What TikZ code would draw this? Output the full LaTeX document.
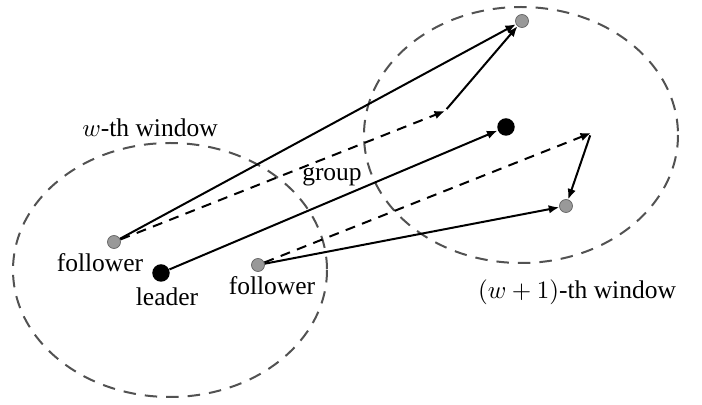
\documentclass[tikz,border=0pt]{standalone}
\usepackage{fontspec}
\setmainfont{Liberation Serif}
\usetikzlibrary{arrows.meta}
\begin{document}
\begin{tikzpicture}[x=0.4pt,y=-0.4pt,
  window/.style={draw=black!68, line width=0.8pt, dash pattern=on 5pt off 3.6pt},
  fol/.style={circle, draw=black!60, fill=black!40, line width=0.3pt, inner sep=0pt, minimum size=5.2pt},
  lead/.style={circle, fill=black, inner sep=0pt, minimum size=7pt},
  mv/.style={line width=0.8pt, -{Latex[length=4.2pt,width=3.4pt]}},
  pred/.style={mv, dash pattern=on 4pt off 3pt},
  lbl/.style={inner sep=0pt, font=\fontsize{10.2pt}{12pt}\selectfont}
]
\useasboundingbox (0,0) rectangle (702,405);
% windows
\draw[window] (170,270) ellipse [x radius=157, y radius=127];
\draw[window] (521,135) ellipse [x radius=157, y radius=128];
% nodes
\node[fol]  (f1) at (114,242) {};
\node[lead] (l1) at (161,273) {};
\node[fol]  (f2) at (258,265) {};
\node[fol]  (g1) at (522,21) {};
\node[lead] (l2) at (506,127) {};
\node[fol]  (g2) at (566,206) {};
\coordinate (d1) at (445,111);
\coordinate (d2) at (591,133);
% labels
\node[lbl] (tf1) at (100,263) {follower};
\node[lbl] (tl1) at (167,297) {leader};
\node[lbl] (tf2) at (272,286) {follower};
\node[lbl] (tg)  at (332,177) {group};
\node[lbl] (tw1) at (150,128) {$w$-th window};
\node[lbl] (tw2) at (577,292) {$(w+1)$-th window};
% arrows
\draw[mv]   (f1) -- (g1);
\draw[pred] (f1) -- (d1);
\draw[mv,shorten <=1pt] (d1) -- (g1);
\draw[mv]   (l1) -- (l2);
\draw[pred] (f2) -- (d2);
\draw[mv,shorten <=1pt] (d2) -- (g2);
\draw[mv]   (f2) -- (g2);
\end{tikzpicture}
\end{document}
